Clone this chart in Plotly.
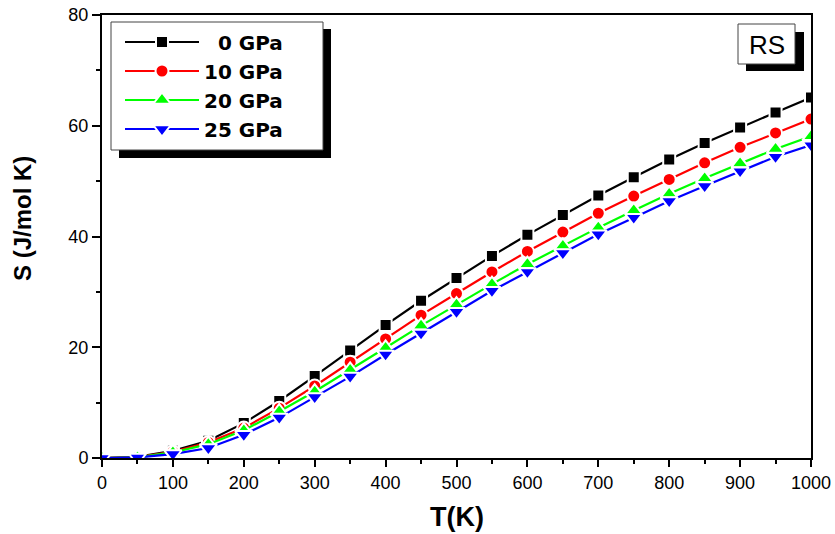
import plotly.graph_objects as go

# Temperature grid (K)
temperature = [0, 50, 100, 150, 200, 250, 300, 350, 400, 450, 500,
               550, 600, 650, 700, 750, 800, 850, 900, 950, 1000]

# Entropy S (J/mol K) of the RS phase at each pressure
s_0gpa = [0, 0.2, 1.3, 3.1, 6.3, 10.3, 14.8, 19.4, 24.0, 28.4, 32.5,
          36.5, 40.3, 43.9, 47.4, 50.7, 53.9, 56.9, 59.7, 62.4, 65.1]
s_10gpa = [0, 0.15, 1.1, 2.8, 5.4, 9.0, 13.0, 17.3, 21.5, 25.8, 29.7,
           33.6, 37.3, 40.8, 44.2, 47.3, 50.3, 53.3, 56.1, 58.7, 61.2]
s_20gpa = [0, 0.1, 1.0, 2.5, 5.0, 8.4, 12.0, 15.9, 19.9, 23.9, 27.7,
           31.4, 35.0, 38.3, 41.6, 44.7, 47.7, 50.5, 53.2, 55.8, 58.1]
s_25gpa = [0, 0.1, 0.7, 1.8, 4.2, 7.3, 11.0, 14.7, 18.7, 22.5, 26.4,
           30.2, 33.6, 37.0, 40.4, 43.4, 46.4, 49.1, 51.8, 54.4, 56.5]

series_names = ["0 GPa", "10 GPa", "20 GPa", "25 GPa"]
series_values = [s_0gpa, s_10gpa, s_20gpa, s_25gpa]
colors = ["#000000", "#ff0000", "#00ff00", "#0000ff"]
symbols = ["square", "circle", "triangle-up", "triangle-down"]
marker_sizes = [12, 13, 15, 15]

W, H = 835, 534
ML, MR, MT, MB = 102, 24, 15, 76
PW, PH = W - ML - MR, H - MT - MB


def px_x(px):
    return (px - ML) / PW


def px_y(py):
    return (H - MB - py) / PH


def pad_label(text, width=6):
    # right-align legend labels with non-breaking spaces (2 spaces ~ 1 digit)
    missing = max(0, width - len(text))
    return "\u00a0" * (2 * missing) + text


fig = go.Figure()
for name, vals, col, sym, ms in zip(series_names, series_values, colors, symbols, marker_sizes):
    fig.add_trace(go.Scatter(
        x=temperature, y=vals, mode="lines+markers", name=pad_label(name),
        line=dict(color=col, width=2.2),
        marker=dict(symbol=sym, size=ms, color=col,
                    line=dict(color="white", width=2)),
    ))

font_main = "Arial, 'Liberation Sans', sans-serif"
font_legend = "'DejaVu Sans', Arial, sans-serif"


def rect(x0, y0, x1, y1, fill, border=None):
    return dict(type="rect", xref="paper", yref="paper",
                x0=px_x(x0), x1=px_x(x1), y0=px_y(y1), y1=px_y(y0),
                fillcolor=fill,
                line=dict(color=border or fill, width=1 if border else 0),
                layer="above")


shapes = [
    # legend frame with drop shadow
    rect(119, 29, 331, 158, "black"),
    rect(111, 22, 323, 150, "white", "#444444"),
    # RS label frame with drop shadow
    rect(746, 32, 804, 71, "black"),
    rect(738, 24, 795, 64, "white", "#444444"),
]

annotations = [
    dict(x=px_x(766.5), y=px_y(44.5), xref="paper", yref="paper",
         xanchor="center", yanchor="middle", text="RS", showarrow=False,
         font=dict(size=26, family=font_main, color="black")),
    dict(x=px_x(456.5), y=px_y(517), xref="paper", yref="paper",
         xanchor="center", yanchor="middle", text="T(K)", showarrow=False,
         font=dict(size=27, family=font_main, color="black", weight="bold")),
    dict(x=px_x(22), y=px_y(219), xref="paper", yref="paper",
         xanchor="center", yanchor="middle", text="S (J/mol K)", showarrow=False,
         textangle=-90,
         font=dict(size=24, family=font_main, color="black", weight="bold")),
]

fig.update_layout(
    width=W, height=H,
    margin=dict(l=ML, r=MR, t=MT, b=MB, autoexpand=False),
    paper_bgcolor="white", plot_bgcolor="white",
    font=dict(family=font_main, color="black"),
    shapes=shapes,
    annotations=annotations,
    legend=dict(x=px_x(120), y=px_y(22.5), xanchor="left", yanchor="top",
                bgcolor="rgba(0,0,0,0)", borderwidth=0,
                font=dict(size=20, family=font_legend, color="black", weight="bold"),
                itemwidth=74),
    showlegend=True,
)

fig.update_xaxes(
    range=[0, 1000], dtick=100, tick0=0, automargin=False,
    showline=True, linecolor="black", linewidth=2, mirror=True,
    ticks="outside", ticklen=7, tickwidth=2, tickcolor="black",
    minor=dict(dtick=50, ticks="outside", ticklen=4, tickwidth=2, tickcolor="black"),
    showgrid=False, zeroline=False,
    tickfont=dict(size=18, family=font_main),
)
fig.update_yaxes(
    range=[0, 80], dtick=20, tick0=0, automargin=False,
    showline=True, linecolor="black", linewidth=2, mirror=True,
    ticks="outside", ticklen=8, tickwidth=2, tickcolor="black",
    minor=dict(dtick=10, ticks="outside", ticklen=4, tickwidth=2, tickcolor="black"),
    showgrid=False, zeroline=False,
    tickfont=dict(size=18, family=font_main),
)

fig.write_html("out.html")
